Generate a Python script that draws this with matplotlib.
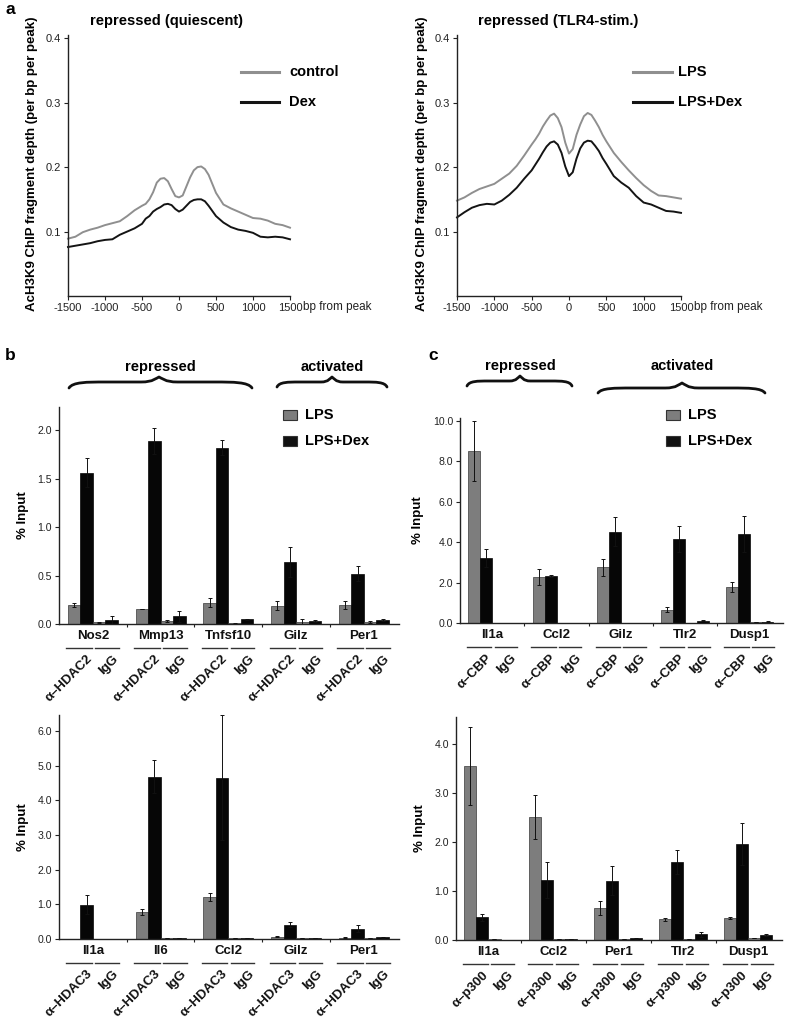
import matplotlib
matplotlib.use('Agg')
import matplotlib.pyplot as plt
import numpy as np
from matplotlib.path import Path
from matplotlib.patches import PathPatch, Rectangle
from matplotlib.lines import Line2D
from matplotlib.ticker import FormatStrFormatter

plt.rcParams['font.family'] = ['Liberation Sans', 'DejaVu Sans']
plt.rcParams['axes.unicode_minus'] = False

# ---- panel a: AcH3K9 profiles around peaks ----
bp = [-1500, -1400, -1300, -1200, -1100, -1000, -900, -800, -700, -600, -500,
      -450, -400, -350, -300, -250, -200, -150, -100, -50, 0, 50, 100, 150, 200,
      250, 300, 350, 400, 450,
      500, 600, 700, 800, 900, 1000, 1100, 1200, 1300, 1400, 1500]

quiet_control = [0.089, 0.092, 0.099, 0.103, 0.106, 0.110, 0.113, 0.116, 0.124, 0.133, 0.140,
                 0.143, 0.150, 0.161, 0.176, 0.182, 0.183, 0.178, 0.166, 0.155, 0.153,
                 0.156, 0.170, 0.184, 0.195, 0.200, 0.201, 0.197, 0.188, 0.174,
                 0.160, 0.142, 0.136, 0.131, 0.126, 0.121, 0.120, 0.117, 0.112, 0.110, 0.106]
quiet_dex = [0.076, 0.078, 0.080, 0.082, 0.085, 0.087, 0.088, 0.095, 0.100, 0.105, 0.112,
             0.120, 0.124, 0.131, 0.135, 0.138, 0.142, 0.143, 0.141, 0.135, 0.131,
             0.134, 0.140, 0.146, 0.149, 0.150, 0.150, 0.147, 0.140, 0.132,
             0.124, 0.114, 0.107, 0.103, 0.101, 0.098, 0.092, 0.091, 0.092, 0.091, 0.088]

stim_lps = [0.148, 0.153, 0.160, 0.166, 0.170, 0.174, 0.182, 0.190, 0.202, 0.218, 0.235,
            0.243, 0.252, 0.263, 0.272, 0.280, 0.283, 0.276, 0.262, 0.238, 0.221,
            0.228, 0.250, 0.266, 0.279, 0.284, 0.281, 0.272, 0.262, 0.250,
            0.240, 0.222, 0.208, 0.195, 0.183, 0.172, 0.163, 0.156, 0.155, 0.153, 0.151]
stim_lps_dex = [0.122, 0.130, 0.137, 0.141, 0.143, 0.142, 0.148, 0.157, 0.168, 0.182, 0.195,
                0.204, 0.213, 0.223, 0.232, 0.238, 0.240, 0.235, 0.222, 0.201, 0.186,
                0.192, 0.213, 0.229, 0.238, 0.241, 0.240, 0.233, 0.225, 0.214,
                0.205, 0.186, 0.176, 0.168, 0.155, 0.145, 0.142, 0.137, 0.132, 0.131, 0.129]

# ---- panel b: HDAC2 / HDAC3 ChIP (% input) ----
hdac2_genes = ['Nos2', 'Mmp13', 'Tnfsf10', 'Gilz', 'Per1']
hdac2_lps = [0.20, 0.155, 0.22, 0.19, 0.20]
hdac2_lps_err = [0.02, 0.0, 0.045, 0.05, 0.04]
hdac2_dex = [1.56, 1.89, 1.82, 0.64, 0.52]
hdac2_dex_err = [0.15, 0.13, 0.08, 0.15, 0.08]
hdac2_igg_lps = [0.02, 0.03, 0.01, 0.02, 0.02]
hdac2_igg_lps_err = [0.005, 0.01, 0.005, 0.03, 0.01]
hdac2_igg_dex = [0.04, 0.08, 0.05, 0.03, 0.04]
hdac2_igg_dex_err = [0.04, 0.055, 0.005, 0.01, 0.01]

hdac3_genes = ['Il1a', 'Il6', 'Ccl2', 'Gilz', 'Per1']
hdac3_lps = [0.0, 0.78, 1.21, 0.07, 0.04]
hdac3_lps_err = [0.0, 0.09, 0.11, 0.01, 0.01]
hdac3_dex = [0.99, 4.68, 4.65, 0.41, 0.29]
hdac3_dex_err = [0.27, 0.48, 1.8, 0.07, 0.10]
hdac3_igg_lps = [0.01, 0.02, 0.03, 0.02, 0.03]
hdac3_igg_lps_err = [0.0, 0.0, 0.0, 0.0, 0.0]
hdac3_igg_dex = [0.0, 0.03, 0.02, 0.03, 0.05]
hdac3_igg_dex_err = [0.0, 0.0, 0.0, 0.0, 0.01]

# ---- panel c: CBP / p300 ChIP (% input) ----
cbp_genes = ['Il1a', 'Ccl2', 'Gilz', 'Tlr2', 'Dusp1']
cbp_lps = [8.52, 2.29, 2.76, 0.66, 1.78]
cbp_lps_err = [1.48, 0.39, 0.43, 0.11, 0.26]
cbp_dex = [3.21, 2.34, 4.52, 4.16, 4.41]
cbp_dex_err = [0.44, 0.06, 0.71, 0.63, 0.87]
cbp_igg_lps = [0.0, 0.02, 0.02, 0.02, 0.03]
cbp_igg_lps_err = [0.0, 0.0, 0.0, 0.0, 0.0]
cbp_igg_dex = [0.0, 0.0, 0.02, 0.12, 0.07]
cbp_igg_dex_err = [0.0, 0.0, 0.0, 0.04, 0.02]

p300_genes = ['Il1a', 'Ccl2', 'Per1', 'Tlr2', 'Dusp1']
p300_lps = [3.55, 2.51, 0.66, 0.42, 0.44]
p300_lps_err = [0.80, 0.44, 0.14, 0.03, 0.02]
p300_dex = [0.46, 1.22, 1.21, 1.59, 1.96]
p300_dex_err = [0.07, 0.37, 0.29, 0.24, 0.42]
p300_igg_lps = [0.02, 0.03, 0.02, 0.02, 0.05]
p300_igg_lps_err = [0.0, 0.0, 0.0, 0.0, 0.0]
p300_igg_dex = [0.01, 0.02, 0.04, 0.12, 0.095]
p300_igg_dex_err = [0.0, 0.0, 0.01, 0.05, 0.02]

W, H = 788, 1021
GRAY = '#7d7d7d'
BLACK = '#060606'
TXT = '#222222'

fig = plt.figure(figsize=(W / 100, H / 100), dpi=100)


def rect(l, t, r, b):
    return [l / W, 1 - b / H, (r - l) / W, (b - t) / H]


def ftext(x, y, s, **kw):
    kw.setdefault('ha', 'center')
    kw.setdefault('va', 'center')
    fig.text(x / W, 1 - y / H, s, **kw)


def brace(x0, x1, xm, y_end, y_mid, y_tip):
    L = xm - x0
    R = x1 - xm
    pts = [(x0, y_end),
           (x0 + 0.04 * L, y_mid), (x0 + 0.2 * L, y_mid), (x0 + 0.4 * L, y_mid),
           (xm - 0.2 * L, y_mid),
           (xm - 0.06 * L, y_mid), (xm - 0.03 * L, y_tip + 1), (xm, y_tip),
           (xm + 0.03 * R, y_tip + 1), (xm + 0.06 * R, y_mid), (xm + 0.2 * R, y_mid),
           (x1 - 0.4 * R, y_mid),
           (x1 - 0.2 * R, y_mid), (x1 - 0.04 * R, y_mid), (x1, y_end)]
    codes = [Path.MOVETO,
             Path.CURVE4, Path.CURVE4, Path.CURVE4,
             Path.LINETO,
             Path.CURVE4, Path.CURVE4, Path.CURVE4,
             Path.CURVE4, Path.CURVE4, Path.CURVE4,
             Path.LINETO,
             Path.CURVE4, Path.CURVE4, Path.CURVE4]
    verts = [(x / W, 1 - y / H) for x, y in pts]
    fig.add_artist(PathPatch(Path(verts, codes), transform=fig.transFigure,
                             fill=False, lw=2.0, edgecolor='#111111',
                             capstyle='round', joinstyle='round'))


def profile(box, y1, y2):
    ax = fig.add_axes(rect(*box))
    ax.plot(bp, y1, color='#8f8f8f', lw=1.4, clip_on=False)
    ax.plot(bp, y2, color='#141414', lw=1.4, clip_on=False)
    ax.set_xlim(-1500, 1500)
    ax.set_ylim(0, 0.405)
    ax.set_xticks([-1500, -1000, -500, 0, 500, 1000, 1500])
    ax.set_yticks([0.1, 0.2, 0.3, 0.4])
    ax.set_yticklabels(['0.1', '0.2', '0.3', '0.4'])
    for s in ['top', 'right']:
        ax.spines[s].set_visible(False)
    for s in ['left', 'bottom']:
        ax.spines[s].set_linewidth(1.0)
        ax.spines[s].set_color('#222222')
    ax.tick_params(labelsize=8, length=3, width=0.8, color='#222222',
                   labelcolor=TXT, pad=2)
    return ax


def bar_panel(box, ymax, yticks, genes, ab, lps, lps_err, dex, dex_err,
              igg_lps, igg_lps_err, igg_dex, igg_dex_err):
    ax = fig.add_axes(rect(*box))
    h_px = box[3] - box[1]
    n = len(genes)
    x0 = np.arange(n) * 5.4
    ek = dict(ecolor='#111111', elinewidth=0.7, capsize=1.6, capthick=0.7)
    ax.bar(x0 + 0.5, lps, 1.0, yerr=lps_err, color=GRAY, edgecolor='#3a3a3a',
           lw=0.5, error_kw=ek)
    ax.bar(x0 + 1.5, dex, 1.0, yerr=dex_err, color=BLACK, edgecolor=BLACK,
           lw=0.5, error_kw=ek)
    ax.bar(x0 + 2.5, igg_lps, 1.0, yerr=igg_lps_err, color=GRAY,
           edgecolor='#3a3a3a', lw=0.5, error_kw=ek)
    ax.bar(x0 + 3.5, igg_dex, 1.0, yerr=igg_dex_err, color=BLACK,
           edgecolor=BLACK, lw=0.5, error_kw=ek)
    ax.set_xlim(-0.7, 26.4)
    ax.set_ylim(0, ymax)
    ax.set_yticks(yticks)
    ax.yaxis.set_major_formatter(FormatStrFormatter('%.1f'))
    ax.set_xticks(x0[:-1] + 4.7)
    ax.set_xticklabels([])
    for s in ['top', 'right']:
        ax.spines[s].set_visible(False)
    for s in ['left', 'bottom']:
        ax.spines[s].set_linewidth(1.0)
        ax.spines[s].set_color('#222222')
    ax.tick_params(axis='y', labelsize=7.6, length=3, width=0.8,
                   color='#222222', labelcolor=TXT, pad=2)
    ax.tick_params(axis='x', length=2.5, width=0.8, color='#222222')
    ax.set_ylabel('% Input', fontsize=9.5, fontweight='bold', labelpad=6)

    tr = ax.get_xaxis_transform()
    for i, g in enumerate(genes):
        ax.text(x0[i] + 2.0, -12 / h_px, g, transform=tr, ha='center',
                va='center', fontsize=9.5, fontweight='bold', color='#111111')
        yl = -23.5 / h_px
        ax.plot([x0[i] - 0.12, x0[i] + 1.92], [yl, yl], transform=tr,
                clip_on=False, color='#333333', lw=1.0)
        ax.plot([x0[i] + 2.2, x0[i] + 4.08], [yl, yl], transform=tr,
                clip_on=False, color='#333333', lw=1.0)
        yr = -33 / h_px
        ax.text(x0[i] + 1.8, yr, ab, transform=tr, rotation=45,
                rotation_mode='anchor', ha='right', va='center',
                fontsize=9.5, fontweight='bold', color='#111111')
        ax.text(x0[i] + 3.9, yr, 'IgG', transform=tr, rotation=45,
                rotation_mode='anchor', ha='right', va='center',
                fontsize=9.5, fontweight='bold', color='#111111')
    return ax


# panel a
profile((68, 35, 290, 296), quiet_control, quiet_dex)
profile((457, 35, 681, 296), stim_lps, stim_lps_dex)

ylab_a = 'AcH3K9 ChIP fragment depth (per bp per peak)'
ftext(32, 164, ylab_a, rotation=90, fontsize=9.5, fontweight='bold')
ftext(422, 164, ylab_a, rotation=90, fontsize=9.5, fontweight='bold')
ftext(167, 21, 'repressed (quiescent)', fontsize=10.5, fontweight='bold')
ftext(558, 21, 'repressed (TLR4-stim.)', fontsize=10.5, fontweight='bold')
ftext(303, 307, 'bp from peak', ha='left', fontsize=8.5, color=TXT)
ftext(694, 307, 'bp from peak', ha='left', fontsize=8.5, color=TXT)

for (lx0, lx1, tx), labels in [((241, 279, 289), ['control', 'Dex']),
                               ((633, 672, 678), ['LPS', 'LPS+Dex'])]:
    for yy, col, lab in zip([72, 102], ['#8f8f8f', '#141414'], labels):
        fig.add_artist(Line2D([lx0 / W, lx1 / W], [1 - yy / H, 1 - yy / H],
                              transform=fig.transFigure, color=col, lw=2.2))
        ftext(tx, yy, lab, ha='left', fontsize=10.5, fontweight='bold')

# panel b
bar_panel((59, 407, 399, 624), 2.24, [0, 0.5, 1.0, 1.5, 2.0], hdac2_genes,
          'α–HDAC2', hdac2_lps, hdac2_lps_err, hdac2_dex, hdac2_dex_err,
          hdac2_igg_lps, hdac2_igg_lps_err, hdac2_igg_dex, hdac2_igg_dex_err)
bar_panel((59, 715, 399, 939), 6.46, [0, 1, 2, 3, 4, 5, 6], hdac3_genes,
          'α–HDAC3', hdac3_lps, hdac3_lps_err, hdac3_dex, hdac3_dex_err,
          hdac3_igg_lps, hdac3_igg_lps_err, hdac3_igg_dex, hdac3_igg_dex_err)

# panel c
bar_panel((460, 418, 783, 623), 10.15, [0, 2, 4, 6, 8, 10], cbp_genes,
          'α–CBP', cbp_lps, cbp_lps_err, cbp_dex, cbp_dex_err,
          cbp_igg_lps, cbp_igg_lps_err, cbp_igg_dex, cbp_igg_dex_err)
bar_panel((456, 717, 782, 940), 4.55, [0, 1, 2, 3, 4], p300_genes,
          'α–p300', p300_lps, p300_lps_err, p300_dex, p300_dex_err,
          p300_igg_lps, p300_igg_lps_err, p300_igg_dex, p300_igg_dex_err)

# bar legends
for sx, tx in [(283, 305), (666, 688)]:
    for yy, col, lab in [(415, GRAY, 'LPS'), (441, '#111111', 'LPS+Dex')]:
        fig.add_artist(Rectangle((sx / W, 1 - (yy + 5) / H), 14 / W, 10 / H,
                                 transform=fig.transFigure, facecolor=col,
                                 edgecolor='#333333', lw=0.8))
        ftext(tx, yy, lab, ha='left', fontsize=10.5, fontweight='bold')

# braces and group labels
brace(69, 252, 159, 388, 382, 377)
brace(277, 387, 332, 387, 382, 377)
brace(467, 572, 520, 386, 381, 376)
brace(598, 765, 682, 393, 388, 383)
ftext(160, 367, 'repressed', fontsize=10.5, fontweight='bold')
ftext(332, 367, 'activated', fontsize=10.5, fontweight='bold')
ftext(520, 366, 'repressed', fontsize=10.5, fontweight='bold')
ftext(682, 366, 'activated', fontsize=10.5, fontweight='bold')

# panel letters
ftext(10, 10, 'a', fontsize=12.5, fontweight='bold')
ftext(10, 355, 'b', fontsize=12.5, fontweight='bold')
ftext(433, 355, 'c', fontsize=12.5, fontweight='bold')

fig.savefig('out.png', dpi=100, facecolor='white')
